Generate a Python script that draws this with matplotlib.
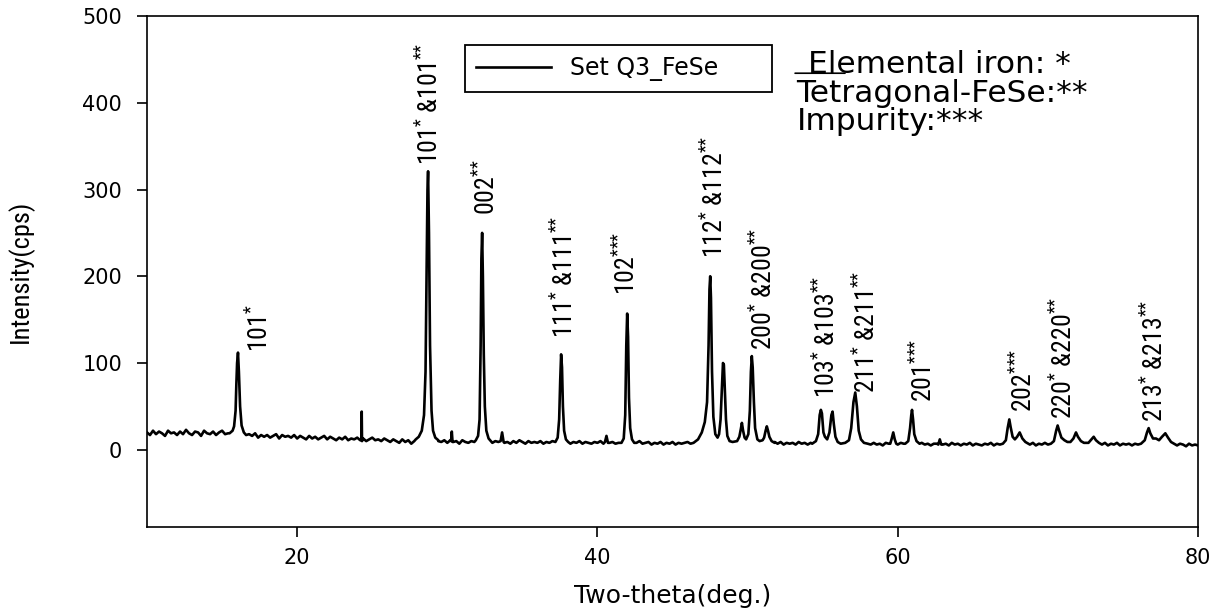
import numpy as np
import matplotlib
matplotlib.use("Agg")
import matplotlib.pyplot as plt

# ---------------- data ----------------
scan_start = 10.0      # first 2-theta of the background scan grid
scan_step = 0.2        # 2-theta step of the background scan grid
background_counts = [
    20, 17, 22, 18, 21, 19, 16, 22, 19, 20,   # 10.0 - 11.8
    17, 21, 18, 23, 19, 17, 21, 20, 16, 22,   # 12.0 - 13.8
    19, 18, 21, 17, 20, 22, 18, 19, 19, 18,   # 14.0 - 15.8
    18, 18, 17, 15, 18, 16, 19, 14, 17, 15,   # 16.0 - 17.8
    17, 14, 16, 18, 13, 17, 15, 16, 14, 17,   # 18.0 - 19.8
    13, 16, 14, 12, 16, 13, 15, 12, 14, 16,   # 20.0 - 21.8
    12, 15, 13, 11, 14, 12, 15, 11, 13, 12,   # 22.0 - 23.8
    14, 11, 13, 10, 12, 14, 11, 12, 10, 13,   # 24.0 - 25.8
    11, 9, 12, 10, 8, 12, 9, 11, 7, 10,       # 26.0 - 27.8
    11, 12, 14, 20, 30, 20, 12, 10, 9, 11,    # 28.0 - 29.8
    8, 11, 9, 10, 7, 11, 9, 8, 10, 9,         # 30.0 - 31.8
    11, 12, 12, 12, 10, 8, 10, 9, 11, 8,      # 32.0 - 33.8
    9, 7, 10, 8, 11, 9, 7, 10, 8, 9,          # 34.0 - 35.8
    8, 10, 7, 9, 8, 10, 9, 9, 9, 8,           # 36.0 - 37.8
    10, 7, 9, 8, 10, 7, 9, 8, 7, 9,           # 38.0 - 39.8
    8, 10, 7, 9, 8, 9, 7, 8, 9, 8,            # 40.0 - 41.8
    8, 9, 9, 8, 10, 7, 8, 9, 6, 8,            # 42.0 - 43.8
    7, 9, 6, 8, 7, 9, 6, 8, 7, 8,             # 44.0 - 45.8
    9, 7, 10, 8, 9, 9, 9, 9, 9, 9,            # 46.0 - 47.8
    9, 9, 9, 9, 9, 9, 9, 9, 9, 9,             # 48.0 - 49.8
    9, 9, 9, 9, 9, 9, 9, 9, 9, 9,             # 50.0 - 51.8
    7, 9, 6, 8, 7, 8, 6, 9, 7, 8,             # 52.0 - 53.8
    6, 8, 7, 7, 7, 7, 7, 7, 7, 7,             # 54.0 - 55.8
    7, 7, 7, 7, 7, 7, 7, 7, 7, 7,             # 56.0 - 57.8
    7, 6, 8, 6, 7, 5, 8, 7, 7, 7,             # 58.0 - 59.8
    6, 8, 7, 7, 7, 7, 7, 6, 8, 6,             # 60.0 - 61.8
    7, 5, 7, 7, 8, 6, 7, 5, 8, 6,             # 62.0 - 63.8
    7, 5, 7, 6, 8, 5, 7, 6, 5, 7,             # 64.0 - 65.8
    6, 8, 5, 7, 6, 7, 7, 7, 7, 7,             # 66.0 - 67.8
    7, 7, 7, 7, 6, 8, 5, 7, 6, 8,             # 68.0 - 69.8
    6, 7, 7, 7, 7, 7, 7, 7, 7, 7,             # 70.0 - 71.8
    7, 7, 7, 7, 7, 7, 7, 7, 6, 8,             # 72.0 - 73.8
    5, 7, 6, 8, 5, 7, 6, 7, 5, 7,             # 74.0 - 75.8
    6, 8, 7, 7, 7, 7, 7, 7, 7, 7,             # 76.0 - 77.8
    7, 7, 7, 5, 7, 6, 4, 7, 5, 6,             # 78.0 - 79.8
    5,                                        # 80.0
]

# peak profiles: 2-theta points and counts
peak_two_theta = [
    [15.5, 15.7, 15.8, 15.9, 15.95, 16.0, 16.06, 16.12, 16.2, 16.3, 16.45, 16.6],
    [24.28, 24.30, 24.32],
    [27.9, 28.1, 28.3, 28.45, 28.55, 28.62, 28.68, 28.72, 28.78, 28.85, 28.95, 29.05, 29.2, 29.4],
    [30.25, 30.3, 30.35],
    [31.9, 32.05, 32.15, 32.22, 32.27, 32.32, 32.37, 32.43, 32.5, 32.6, 32.75, 32.9],
    [33.55, 33.65, 33.75],
    [37.2, 37.35, 37.45, 37.52, 37.58, 37.64, 37.7, 37.78, 37.9, 38.05],
    [40.5, 40.6, 40.7],
    [41.6, 41.75, 41.85, 41.92, 41.98, 42.04, 42.1, 42.18, 42.3, 42.45],
    [46.4, 46.7, 46.95, 47.15, 47.3, 47.4, 47.46, 47.51, 47.56, 47.63, 47.72, 47.85,
     48.0, 48.1, 48.2, 48.3, 48.36, 48.42, 48.48, 48.56, 48.65, 48.8, 49.0,
     49.3, 49.45, 49.55, 49.62, 49.7, 49.8, 49.9, 50.05, 50.15, 50.22, 50.28,
     50.34, 50.42, 50.5, 50.65, 50.8, 51.0, 51.1, 51.2, 51.28, 51.36, 51.45,
     51.6, 51.8],
    [54.3, 54.55, 54.7, 54.8, 54.88, 54.95, 55.05, 55.15, 55.3, 55.45, 55.58, 55.66,
     55.74, 55.85, 56.0, 56.2, 56.5, 56.75, 56.9, 57.05, 57.17, 57.28, 57.4, 57.55,
     57.75, 58.0],
    [59.5, 59.6, 59.7, 59.8, 59.9],
    [60.5, 60.7, 60.82, 60.9, 60.95, 61.02, 61.1, 61.25, 61.45],
    [62.7, 62.8, 62.9],
    [67.0, 67.2, 67.32, 67.43, 67.52, 67.65, 67.8, 67.95, 68.12, 68.3, 68.5, 68.7],
    [70.2, 70.4, 70.55, 70.65, 70.75, 70.9, 71.1, 71.3, 71.5, 71.7, 71.87, 72.0,
     72.2, 72.4, 72.7, 72.9, 73.05, 73.2, 73.4],
    [76.2, 76.45, 76.6, 76.71, 76.82, 77.0, 77.2, 77.4, 77.6, 77.82, 78.0, 78.2, 78.4],
]
peak_counts = [
    [19, 22, 27, 45, 75, 100, 112, 90, 50, 28, 20, 17],
    [11, 44, 10],
    [12, 15, 22, 40, 90, 200, 300, 321, 250, 120, 45, 22, 14, 11],
    [10, 21, 9],
    [11, 16, 35, 120, 220, 250, 200, 110, 50, 22, 13, 10],
    [10, 20, 9],
    [9, 14, 35, 80, 110, 95, 50, 22, 12, 9],
    [9, 16, 8],
    [8, 13, 40, 120, 157, 130, 60, 25, 12, 8],
    [8, 12, 20, 32, 55, 120, 185, 200, 175, 90, 38, 18,
     14, 18, 35, 75, 100, 98, 70, 35, 16, 10, 9,
     10, 15, 24, 31, 22, 14, 12, 18, 45, 90, 108,
     95, 55, 25, 12, 10, 11, 14, 22, 27, 22, 15,
     10, 8],
    [7, 10, 18, 40, 46, 42, 20, 15, 12, 20, 40, 44,
     30, 15, 9, 7, 8, 11, 25, 55, 66, 50, 22, 12,
     8, 7],
    [7, 13, 20, 12, 7],
    [7, 10, 25, 40, 46, 35, 18, 10, 7],
    [6, 12, 6],
    [7, 11, 25, 35, 26, 15, 12, 15, 20, 13, 9, 7],
    [7, 10, 22, 28, 22, 14, 11, 9, 9, 13, 20, 15,
     10, 8, 8, 12, 15, 11, 8],
    [7, 11, 20, 25, 19, 13, 13, 11, 15, 19, 14, 9, 7],
]

# reflection labels (text, 2-theta and counts where the text starts)
label_texts = [
    "101$^{*}$",
    "101$^{*}$ &101$^{{*}{*}}$",
    "002$^{{*}{*}}$",
    "111$^{*}$ &111$^{{*}{*}}$",
    "102$^{{*}{*}{*}}$",
    "112$^{*}$ &112$^{{*}{*}}$",
    "200$^{*}$ &200$^{{*}{*}}$",
    "103$^{*}$ &103$^{{*}{*}}$",
    "211$^{*}$ &211$^{{*}{*}}$",
    "201$^{{*}{*}{*}}$",
    "202$^{{*}{*}{*}}$",
    "220$^{*}$ &220$^{{*}{*}}$",
    "213$^{*}$ &213$^{{*}{*}}$",
]
label_two_theta = [18.06, 29.39, 33.18, 38.38, 42.51, 48.37, 51.64,
                   55.84, 58.50, 62.30, 68.96, 71.62, 77.69]
label_counts = [113, 328, 271, 129, 178, 221, 115, 60, 66, 55, 44, 35, 32]

series_name = "Set Q3_FeSe"
phase_key = ["Elemental iron: *", "Tetragonal-FeSe:**", "Impurity:***"]

x_ticks = [20, 40, 60, 80]
y_ticks = [0, 100, 200, 300, 400, 500]
x_limits = (10, 80)
y_limits = (-89, 500)
x_title = "Two-theta(deg.)"
y_title = "Intensity(cps)"

# ---------------- assemble the pattern ----------------
bg_x = scan_start + scan_step * np.arange(len(background_counts))
bg_y = np.asarray(background_counts, dtype=float)
keep = np.ones(bg_x.size, dtype=bool)
for px in peak_two_theta:
    keep &= ~((bg_x >= min(px)) & (bg_x <= max(px)))
xs = np.concatenate([bg_x[keep]] + [np.asarray(p, float) for p in peak_two_theta])
ys = np.concatenate([bg_y[keep]] + [np.asarray(c, float) for c in peak_counts])
order = np.argsort(xs)
xs, ys = xs[order], ys[order]

# ---------------- figure ----------------
narrow = ["Roboto Condensed", "Liberation Sans", "DejaVu Sans"]
wide = ["DejaVu Sans"]
plt.rcParams["mathtext.fontset"] = "custom"
plt.rcParams["mathtext.rm"] = "Roboto Condensed"
plt.rcParams["mathtext.it"] = "Roboto Condensed"
plt.rcParams["mathtext.bf"] = "Roboto Condensed"

fig = plt.figure(figsize=(12.25, 6.15), dpi=100)
ax = fig.add_axes([0.12, 0.1431, 0.858, 0.8309])

ax.plot(xs, ys, color="black", lw=1.9, solid_joinstyle="round", label=series_name)

ax.set_xlim(*x_limits)
ax.set_ylim(*y_limits)
ax.set_xticks(x_ticks)
ax.set_yticks(y_ticks)
for sp in ["top", "right", "left", "bottom"]:
    ax.spines[sp].set_linewidth(1.2)
ax.tick_params(axis="both", direction="out", length=7, width=1.2,
               top=False, right=False)
ax.tick_params(axis="y", pad=11)
ax.tick_params(axis="x", pad=8)
for lab in ax.get_xticklabels() + ax.get_yticklabels():
    lab.set_fontfamily(wide)
    lab.set_fontsize(15)

ax.set_xlabel(x_title, fontfamily=wide, fontsize=18, labelpad=12)
ax.set_ylabel(y_title, fontfamily=narrow, fontsize=19)
ax.yaxis.set_label_coords(-0.108, 0.5)

for t, lx, ly in zip(label_texts, label_two_theta, label_counts):
    ax.text(lx, ly, t, rotation=90, rotation_mode="anchor", ha="left",
            va="baseline", fontfamily=narrow, fontsize=18.5, color="black")

leg = ax.legend(loc="center", bbox_to_anchor=(0.3026, 0.8474, 0.2921, 0.0998),
                mode="expand", borderaxespad=0, fancybox=False, frameon=True,
                edgecolor="black", handlelength=3.2, handletextpad=0.8,
                borderpad=0.45, prop={"family": wide, "size": 17})
leg.get_frame().set_linewidth(1.3)
leg.get_frame().set_alpha(None)

key_x = [0.629, 0.618, 0.618]
key_y = [0.888, 0.832, 0.777]
for t, kx, ky in zip(phase_key, key_x, key_y):
    ax.text(kx, ky, t, transform=ax.transAxes, ha="left", va="baseline",
            fontfamily=wide, fontsize=22.5, color="black")
ax.annotate("", xy=(0.6166, 0.888), xytext=(0.6641, 0.888),
            xycoords="axes fraction", textcoords="axes fraction",
            arrowprops=dict(arrowstyle="-", color="black", lw=1.2,
                            shrinkA=0, shrinkB=0))

fig.savefig("out.png", dpi=100)
